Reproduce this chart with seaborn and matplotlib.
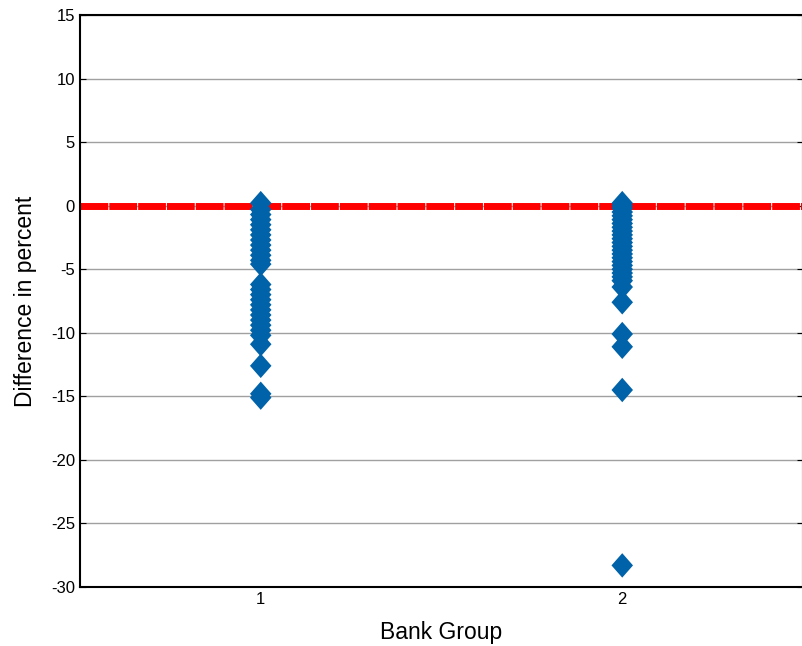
import matplotlib
matplotlib.use("Agg")
import matplotlib.pyplot as plt
import seaborn as sns
import numpy as np
import pandas as pd

sns.set_style("white", {'text.color': 'black', 'axes.labelcolor': 'black',
                        'xtick.color': 'black', 'ytick.color': 'black'})
plt.rcParams['font.family'] = ['Liberation Sans', 'DejaVu Sans']
plt.rcParams['axes.unicode_minus'] = False

# data
group1 = [0.2, -0.3, -0.7, -1.1, -1.5, -1.9, -2.3, -2.7, -3.1, -3.5, -3.9,
          -4.3, -4.6, -6.2, -6.6, -7.0, -7.4, -7.8, -8.2, -8.6, -9.0, -9.4,
          -9.8, -10.2, -10.9, -12.6, -14.8, -15.1]
group2 = [0.2, 0.0, -0.2, -0.5, -0.8, -1.1, -1.4, -1.7, -2.0, -2.3, -2.6,
          -2.9, -3.2, -3.5, -3.8, -4.1, -4.4, -4.7, -5.0, -5.3, -5.6, -5.9,
          -6.4, -7.6, -10.1, -11.1, -14.5, -28.3]
baseline = 0
yticks = [15, 10, 5, 0, -5, -10, -15, -20, -25, -30]

df = pd.DataFrame({
    'group': [1] * len(group1) + [2] * len(group2),
    'diff': group1 + group2,
})

# diamond a bit taller than wide
diamond = [(0, 1), (0.88, 0), (0, -1), (-0.88, 0), (0, 1)]

fig = plt.figure(figsize=(8.03, 6.46), dpi=100)
ax = fig.add_axes([0.0996, 0.0913, 0.9004, 0.8855])

ax.axhline(baseline, color='red', lw=5, ls=(0, (4, 0.15)), zorder=2)
sns.scatterplot(data=df, x='group', y='diff', marker=diamond, s=310,
                color='#0062a8', edgecolor='none', zorder=3, ax=ax)

ax.set_xlim(0.5, 2.5)
ax.set_ylim(-30, 15)
ax.set_xticks([1, 2])
ax.set_yticks(yticks)
ax.tick_params(direction='in', labelsize=12, length=4, right=True, left=True,
               colors='black')
ax.yaxis.grid(True, color='#a0a0a0', lw=1)
ax.set_axisbelow(True)
for s in ax.spines.values():
    s.set_color('black')
    s.set_linewidth(1.5)

ax.set_xlabel("Bank Group", fontsize=16.5, labelpad=10, color='black')
ax.set_ylabel("Difference in percent", fontsize=16.5, labelpad=10, color='black')

fig.savefig("out.png", dpi=100)
